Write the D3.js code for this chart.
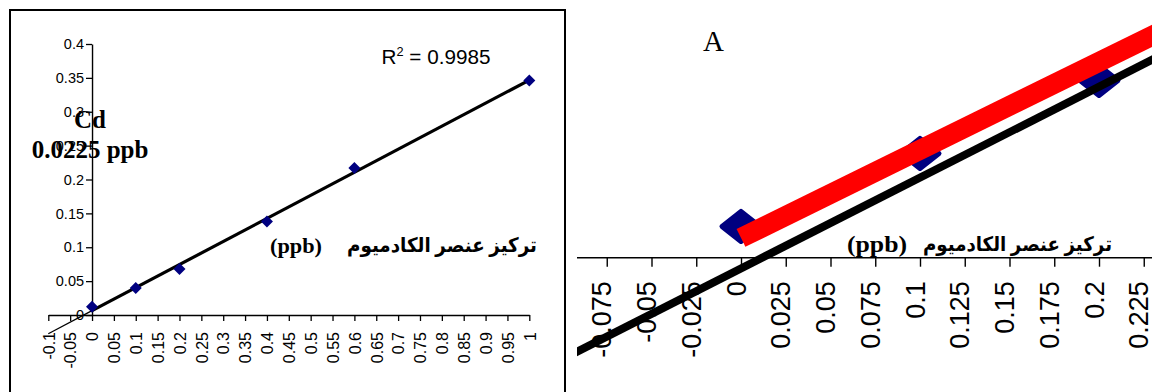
<!DOCTYPE html>
<html>
<head>
<meta charset="utf-8">
<script src="https://cdn.jsdelivr.net/npm/d3@7"></script>
<style>
  body { margin: 0; background: #fff; }
  svg { display: block; }
</style>
</head>
<body>
<svg id="chart" width="1152" height="392"></svg>
<script>
// Cadmium calibration: standard concentration (ppb) against instrument response
const concentrations = [0, 0.1, 0.2, 0.4, 0.6, 1];
const absorbances = [0.012, 0.040, 0.068, 0.138, 0.217, 0.346];

// Tick values for the full calibration panel
const xTicksMain = [-0.1, -0.05, 0, 0.05, 0.1, 0.15, 0.2, 0.25, 0.3, 0.35, 0.4, 0.45, 0.5,
                    0.55, 0.6, 0.65, 0.7, 0.75, 0.8, 0.85, 0.9, 0.95, 1];
const yTicksMain = [0, 0.05, 0.1, 0.15, 0.2, 0.25, 0.3, 0.35, 0.4];

// Tick values for the enlarged low-range panel
const xTicksZoom = [-0.075, -0.05, -0.025, 0, 0.025, 0.05, 0.075, 0.1, 0.125, 0.15, 0.175, 0.2, 0.225];
const zoomMaxConc = 0.2;

// Lines of the enlarged panel, as end points (concentration, response)
const blackLineX = [-0.1, 0.25];
const blackLineY = [-0.039, 0.083];
const redLineX = [0, 0.25];
const redLineY = [0.0076, 0.092];

// Text
const rSquaredValue = "0.9985";
const resultLabels = ["Cd", "0.0225 ppb"];
const axisTitleAr = "تركيز عنصر الكادميوم";
const unitLabel = "(ppb)";
const panelLabel = "A";

const svg = d3.select("#chart");
const sans = "Arial, 'Liberation Sans', Helvetica, sans-serif";
const serif = "'Times New Roman', 'Liberation Serif', Times, serif";
const arabic = "'Times New Roman', 'DejaVu Sans', sans-serif";
const navy = "#000080";

svg.append("rect").attr("width", 1152).attr("height", 392).attr("fill", "#fff");

// ---------------- Full calibration panel ----------------
const xL = d3.scaleLinear().domain([-0.1, 1]).range([48.3, 529.3]);
const yL = d3.scaleLinear().domain([0, 0.4]).range([315, 44]);

// frame
svg.append("rect")
  .attr("x", 10).attr("y", 10).attr("width", 555).attr("height", 420)
  .attr("fill", "none").attr("stroke", "#000").attr("stroke-width", 2);

const gx = svg.append("g").attr("transform", `translate(0,${yL(0)})`)
  .call(d3.axisBottom(xL).tickValues(xTicksMain).tickSize(6).tickSizeOuter(0)
        .tickFormat(d => String(d)));
gx.select(".domain").attr("stroke-width", 1.4);
gx.selectAll(".tick line").attr("stroke-width", 1.3);
gx.selectAll(".tick text")
  .attr("transform", "rotate(-90)")
  .attr("text-anchor", "end")
  .attr("x", -17).attr("y", 0).attr("dy", "0.36em")
  .attr("font-family", sans).attr("font-size", 16).attr("fill", "#000");

const gy = svg.append("g").attr("transform", `translate(${xL(0)},0)`)
  .call(d3.axisLeft(yL).tickValues(yTicksMain).tickSize(6).tickSizeOuter(0)
        .tickFormat(d => String(d)));
gy.select(".domain").attr("stroke-width", 1.4);
gy.selectAll(".tick line").attr("stroke-width", 1.3);
gy.selectAll(".tick text")
  .attr("x", -8)
  .attr("font-family", sans).attr("font-size", 14.5).attr("fill", "#000");

// least-squares fit through the standards
const n = concentrations.length;
const mx = d3.mean(concentrations), my = d3.mean(absorbances);
const sxy = d3.sum(concentrations, (x, i) => (x - mx) * (absorbances[i] - my));
const sxx = d3.sum(concentrations, x => (x - mx) * (x - mx));
const slope = sxy / sxx, intercept = my - slope * mx;
const fit = x => intercept + slope * x;

const lineL = d3.line().x(d => xL(d)).y(d => yL(fit(d)));
svg.append("path").datum([-0.1, 0]).attr("d", lineL)
  .attr("fill", "none").attr("stroke", "#000").attr("stroke-width", 1.3);
svg.append("path").datum([0, 1]).attr("d", lineL)
  .attr("fill", "none").attr("stroke", "#000").attr("stroke-width", 3.2);

const smallDiamond = "M0,-6L6,0L0,6L-6,0Z";
svg.append("g").selectAll("path").data(concentrations).join("path")
  .attr("transform", (d, i) => `translate(${xL(d)},${yL(absorbances[i])})`)
  .attr("d", smallDiamond).attr("fill", navy);

svg.append("text").attr("x", 381.5).attr("y", 63.5)
  .attr("font-family", sans).attr("font-size", 19.5).attr("fill", "#000")
  .attr("textLength", 109).attr("lengthAdjust", "spacingAndGlyphs")
  .call(t => {
    t.append("tspan").text("R");
    t.append("tspan").attr("font-size", 12).attr("dy", -8).text("2");
    t.append("tspan").attr("dy", 8).text(" = " + rSquaredValue);
  });

svg.append("g").selectAll("text").data(resultLabels).join("text")
  .attr("x", 90).attr("y", (d, i) => i === 0 ? 128 : 158)
  .attr("text-anchor", "middle")
  .attr("font-family", serif).attr("font-weight", "bold").attr("font-size", 25)
  .attr("fill", "#000").text(d => d);

svg.append("text").attr("x", 270).attr("y", 253)
  .attr("font-family", serif).attr("font-weight", "bold").attr("font-size", 22)
  .attr("textLength", 52).attr("lengthAdjust", "spacingAndGlyphs")
  .attr("fill", "#000").text(unitLabel);
svg.append("text").attr("x", 347).attr("y", 252)
  .attr("font-family", arabic).attr("font-weight", "bold").attr("font-size", 20)
  .attr("textLength", 190).attr("lengthAdjust", "spacingAndGlyphs")
  .attr("direction", "rtl").attr("text-anchor", "end")
  .attr("fill", "#000").text(axisTitleAr);

// ---------------- Enlarged low-range panel ----------------
const xR = d3.scaleLinear().domain([0, 0.2]).range([741, 1099]);
const yR = d3.scaleLinear().domain([0, 0.1]).range([257.7, -3]);
const plotLeft = 577, plotRight = 1152;

svg.append("defs").append("clipPath").attr("id", "zoomClip")
  .append("rect").attr("x", plotLeft).attr("y", 0)
  .attr("width", plotRight - plotLeft).attr("height", 392);

svg.append("text").attr("x", 703).attr("y", 51)
  .attr("font-family", serif).attr("font-size", 29).attr("fill", "#000").text(panelLabel);

const gz = svg.append("g").attr("clip-path", "url(#zoomClip)");

const gxr = gz.append("g").attr("transform", `translate(0,${yR(0)})`)
  .call(d3.axisBottom(xR).tickValues(xTicksZoom).tickSize(9).tickSizeOuter(0)
        .tickFormat(d => String(d)));
gxr.select(".domain").remove();
gxr.selectAll(".tick line").attr("stroke-width", 1.4);
gxr.selectAll(".tick text")
  .attr("transform", "rotate(-90)")
  .attr("text-anchor", "end")
  .attr("x", -23.5).attr("y", 0).attr("dy", "4px")
  .attr("font-family", sans).attr("font-size", 27).attr("fill", "#000");
gz.append("line")
  .attr("x1", plotLeft).attr("x2", plotRight)
  .attr("y1", yR(0)).attr("y2", yR(0))
  .attr("stroke", "#000").attr("stroke-width", 1.4);

gz.append("text").attr("x", 847).attr("y", 252)
  .attr("font-family", serif).attr("font-weight", "bold").attr("font-size", 24)
  .attr("textLength", 60).attr("lengthAdjust", "spacingAndGlyphs")
  .attr("fill", "#000").text(unitLabel);
gz.append("text").attr("x", 923).attr("y", 251)
  .attr("font-family", arabic).attr("font-weight", "bold").attr("font-size", 20)
  .attr("textLength", 189).attr("lengthAdjust", "spacingAndGlyphs")
  .attr("direction", "rtl").attr("text-anchor", "end")
  .attr("fill", "#000").text(axisTitleAr);

const bigDiamond = "M0,-15L19,0L0,15L-19,0Z";
const zoomIdx = d3.range(n).filter(i => concentrations[i] <= zoomMaxConc);
gz.append("g").selectAll("path").data(zoomIdx).join("path")
  .attr("transform", i => `translate(${xR(concentrations[i])},${yR(absorbances[i])})`)
  .attr("d", bigDiamond).attr("fill", navy)
  .attr("stroke", navy).attr("stroke-width", 5).attr("stroke-linejoin", "round");

const lineR = d3.line().x(d => xR(d[0])).y(d => yR(d[1]));
gz.append("path").datum(blackLineX.map((x, i) => [x, blackLineY[i]])).attr("d", lineR)
  .attr("fill", "none").attr("stroke", "#000").attr("stroke-width", 8);
gz.append("path").datum(redLineX.map((x, i) => [x, redLineY[i]])).attr("d", lineR)
  .attr("fill", "none").attr("stroke", "#ff0000").attr("stroke-width", 20);
</script>
</body>
</html>
